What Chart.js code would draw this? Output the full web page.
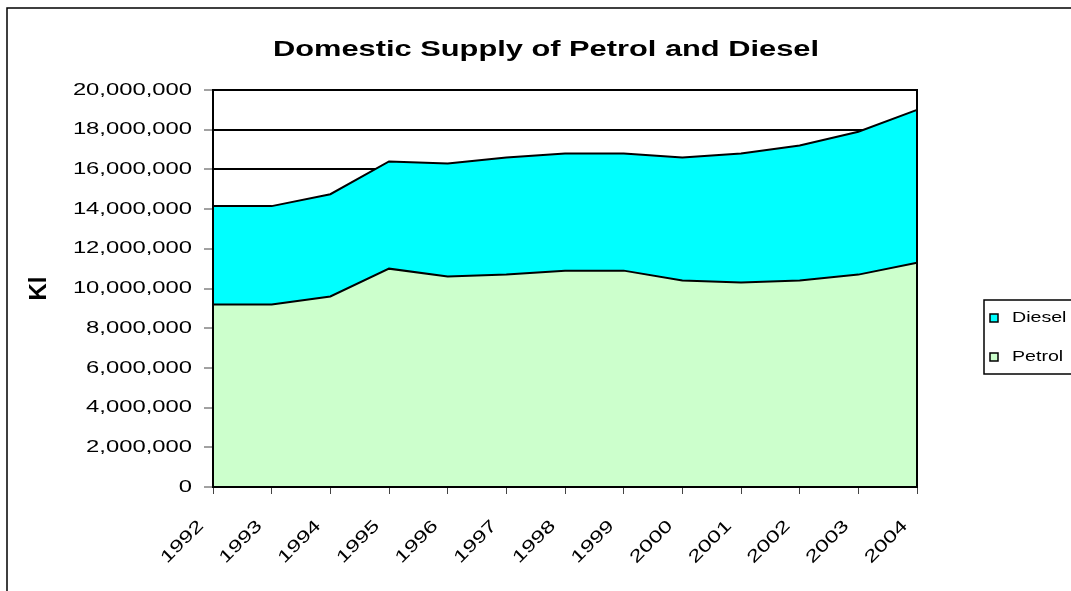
<!DOCTYPE html>
<html>
<head>
<meta charset="utf-8">
<title>Domestic Supply of Petrol and Diesel</title>
<script src="https://cdn.jsdelivr.net/npm/chart.js@4.4.1/dist/chart.umd.min.js"></script>
<style>
  body { margin: 0; background: #fff; }
  canvas { display: block; }
</style>
</head>
<body>
<canvas id="chart" width="1071" height="591"></canvas>
<script>
// data (Kl)
const years = ['1992', '1993', '1994', '1995', '1996', '1997', '1998', '1999', '2000', '2001', '2002', '2003', '2004'];
const petrol = [9200000, 9200000, 9600000, 11000000, 10600000, 10700000, 10900000, 10900000, 10400000, 10300000, 10400000, 10700000, 11300000];
const diesel = [4950000, 4950000, 5150000, 5400000, 5700000, 5900000, 5900000, 5900000, 6200000, 6500000, 6800000, 7200000, 7700000];
const yMin = 0;
const yMax = 20000000;
const yStep = 2000000;

// the original picture is stretched sideways, so widen all text the same way
const TEXT_STRETCH = 1.4;
const ctxProto = CanvasRenderingContext2D.prototype;
const baseFillText = ctxProto.fillText;
const baseMeasureText = ctxProto.measureText;
ctxProto.fillText = function (text, x, y) {
  this.save();
  this.translate(x, y);
  this.scale(TEXT_STRETCH, 1);
  baseFillText.call(this, text, 0, 0);
  this.restore();
};
ctxProto.measureText = function (text) {
  const m = baseMeasureText.call(this, text);
  return {
    width: m.width * TEXT_STRETCH,
    actualBoundingBoxAscent: m.actualBoundingBoxAscent,
    actualBoundingBoxDescent: m.actualBoundingBoxDescent,
    actualBoundingBoxLeft: m.actualBoundingBoxLeft * TEXT_STRETCH,
    actualBoundingBoxRight: m.actualBoundingBoxRight * TEXT_STRETCH
  };
};

// outer frame, plot frame, titles and the boxed legend
const decorations = {
  id: 'decorations',
  beforeDraw(chart) {
    const c = chart.ctx;
    c.save();
    c.fillStyle = '#fff';
    c.fillRect(0, 0, chart.width, chart.height);
    c.strokeStyle = '#000';
    c.lineWidth = 1.5;
    c.strokeRect(7, 8, chart.width + 20, chart.height + 20);
    c.restore();
  },
  afterDatasetsDraw(chart) {
    const { left, top, right, bottom } = chart.chartArea;
    const c = chart.ctx;
    c.save();
    c.strokeStyle = '#000';
    c.lineWidth = 2;
    c.strokeRect(left, top, right - left, bottom - top);
    c.restore();
  },
  afterDraw(chart) {
    const c = chart.ctx;
    const area = chart.chartArea;
    c.save();
    c.fillStyle = '#000';
    c.font = 'bold 22px Arial';
    c.textAlign = 'center';
    c.textBaseline = 'alphabetic';
    c.fillText('Domestic Supply of Petrol and Diesel', 546, 56);

    // y axis title, rotated; drawn unstretched since the stretch runs across it
    c.save();
    c.translate(39, (area.top + area.bottom) / 2);
    c.rotate(-Math.PI / 2);
    c.font = 'bold 24px Arial';
    c.textBaseline = 'middle';
    baseFillText.call(c, 'Kl', 0, 0);
    c.restore();

    // legend box runs off the right edge like in the original
    c.strokeStyle = '#000';
    c.lineWidth = 1.5;
    c.strokeRect(984, 300, 200, 74);
    c.font = '14px Arial';
    c.textAlign = 'left';
    c.textBaseline = 'middle';
    const items = chart.data.datasets.slice().reverse();
    items.forEach((ds, i) => {
      const yc = 318 + i * 39;
      c.fillStyle = ds.backgroundColor;
      c.fillRect(990, yc - 4, 8, 8);
      c.lineWidth = 1.5;
      c.strokeRect(990, yc - 4, 8, 8);
      c.fillStyle = '#000';
      c.fillText(ds.label, 1012, yc);
    });
    c.restore();
  }
};

new Chart(document.getElementById('chart'), {
  type: 'line',
  data: {
    labels: years,
    datasets: [
      {
        label: 'Petrol',
        data: petrol,
        backgroundColor: '#CCFFCC',
        borderColor: '#000',
        borderWidth: 2,
        fill: 'origin',
        pointRadius: 0,
        tension: 0
      },
      {
        label: 'Diesel',
        data: diesel,
        backgroundColor: '#00FFFF',
        borderColor: '#000',
        borderWidth: 2,
        fill: '-1',
        pointRadius: 0,
        tension: 0
      }
    ]
  },
  options: {
    responsive: false,
    animation: false,
    devicePixelRatio: 1,
    layout: { padding: { left: 27, top: 90, right: 154, bottom: 0 } },
    plugins: {
      legend: { display: false },
      tooltip: { enabled: false }
    },
    scales: {
      x: {
        offset: false,
        border: { display: false },
        grid: { drawOnChartArea: false, tickLength: 7, tickColor: '#444', tickWidth: 1 },
        ticks: {
          color: '#000',
          font: { family: 'Arial', size: 17 },
          minRotation: 45,
          maxRotation: 45,
          autoSkip: false,
          padding: 22,
          labelOffset: -12
        },
        afterFit(scale) { scale.height = 104; }
      },
      y: {
        stacked: true,
        min: yMin,
        max: yMax,
        border: { display: false },
        grid: { color: '#000', lineWidth: 2, tickLength: 9, tickColor: '#444', tickWidth: 1 },
        ticks: {
          stepSize: yStep,
          color: '#000',
          padding: 12,
          font: { family: 'Arial', size: 17 },
          callback: v => v.toLocaleString('en-US')
        },
        afterFit(scale) { scale.width = 186; }
      }
    }
  },
  plugins: [decorations]
});
</script>
</body>
</html>
